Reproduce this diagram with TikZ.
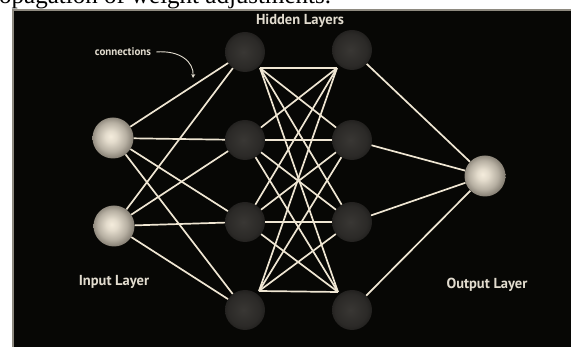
\documentclass[tikz,border=0pt]{standalone}
\usepackage{fontspec}
\setmainfont{Liberation Serif}
\newfontfamily\labfont{PT Sans}
\usetikzlibrary{arrows.meta}
\definecolor{panelbg}{HTML}{070705}
\definecolor{paneledge}{HTML}{8E8A80}
\definecolor{wire}{HTML}{EFE6D3}
\definecolor{labtext}{HTML}{E2DCCF}
\definecolor{litein}{HTML}{F4ECDC}
\definecolor{liteout}{HTML}{6A645A}
\definecolor{darkin}{HTML}{393734}
\definecolor{darkout}{HTML}{121110}
\pgfdeclareradialshading{liteball}{\pgfpoint{-3bp}{2bp}}{color(0bp)=(litein); color(7bp)=(litein!88!liteout); color(18bp)=(litein!55!liteout); color(30bp)=(liteout); color(50bp)=(liteout)}
\pgfdeclareradialshading{darkball}{\pgfpoint{-2bp}{0bp}}{color(0bp)=(darkin); color(20bp)=(darkin!65!darkout); color(35bp)=(darkout); color(50bp)=(darkout)}
\tikzset{
  lite/.style={circle, inner sep=0pt, minimum size=41pt, shading=liteball},
  dark/.style={circle, inner sep=0pt, minimum size=40pt, shading=darkball},
  conn/.style={draw=wire, line width=1.7pt},
  lab/.style={text=labtext, font=\labfont\bfseries\fontsize{14.5}{14.5}\selectfont, inner sep=0pt},
}
\begin{document}
\begin{tikzpicture}[x=1pt,y=-1pt]
\useasboundingbox (0,0) rectangle (571,347);
\clip (0,0) rectangle (571,347);
\fill[white] (0,0) rectangle (571,347);
% caption fragment above the panel
\node[anchor=base west, inner sep=0pt, font=\fontsize{25}{25}\selectfont] (cap) at (-1,4) {opagation of weight adjustments.};
% panel
\fill[panelbg] (12,9) rectangle (572,348);
\draw[paneledge, line width=1.6pt] (12.8,348) -- (12.8,9.8) -- (572,9.8);
% nodes
\node[lite] (i1) at (113,138) {};
\node[lite] (i2) at (114,226) {};
\node[dark] (a1) at (245,52) {};
\node[dark] (a2) at (245,140) {};
\node[dark] (a3) at (245,222) {};
\node[dark] (a4) at (245,310) {};
\node[dark] (b1) at (352,50) {};
\node[dark] (b2) at (352,140) {};
\node[dark] (b3) at (352,222) {};
\node[dark] (b4) at (352,310) {};
\node[lite] (o) at (485,176) {};
% attach points where the hidden-to-hidden wires gather
\coordinate (a1o) at (260,68);
\coordinate (a4o) at (259,291);
\coordinate (b1i) at (337,68);
\coordinate (b4i) at (338,292);
% connections
\foreach \s in {i1,i2}{\foreach \t in {a1,a2,a3,a4}{\draw[conn] (\s) -- (\t);}}
\foreach \t in {b1i,b2,b3,b4i}{\draw[conn] (a1o) -- (\t);}
\foreach \t in {b1i,b2,b3,b4i}{\draw[conn] (a4o) -- (\t);}
\foreach \s in {a2,a3}{\foreach \t in {b2,b3}{\draw[conn] (\s) -- (\t);}}
\foreach \s in {a2,a3}{\draw[conn] (\s) -- (b1i); \draw[conn] (\s) -- (b4i);}
\foreach \s in {b1,b2,b3,b4}{\draw[conn] (\s) -- (o);}
% labels
\node[lab] (hid) at (300,21) {Hidden Layers};
\node[lab] (inl) at (114,282) {Input Layer};
\node[lab] (outl) at (487,285) {Output Layer};
\node[text=labtext, font=\labfont\bfseries\fontsize{11}{11}\selectfont, inner sep=0pt] (con) at (123,52) {connections};
\coordinate (conend) at (193,78);
\draw[labtext, line width=0.9pt, -{Stealth[length=4pt,width=4pt]}] ([xshift=5pt]con.east) .. controls (180,50) and (194,62) .. (conend);
\end{tikzpicture}
\end{document}
